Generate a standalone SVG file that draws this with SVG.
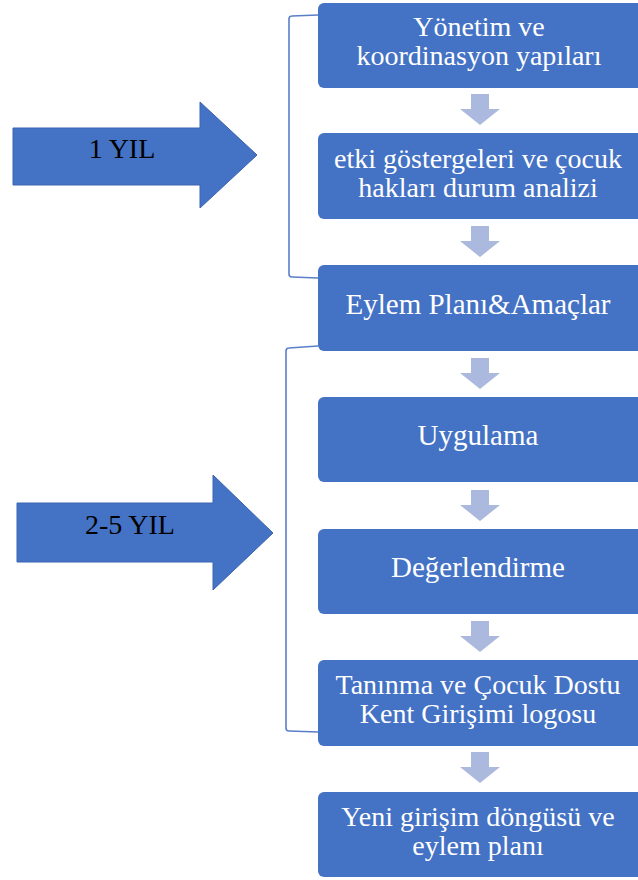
<svg xmlns="http://www.w3.org/2000/svg" width="638" height="880" viewBox="0 0 638 880" font-family="'Times New Roman', 'Liberation Serif', serif">
<style>
.box{fill:#4472C4;}
.bt{font-family:'Times New Roman','Liberation Serif',serif;font-size:28px;fill:#FFFFFF;text-anchor:middle;}
.bt1{font-family:'Times New Roman','Liberation Serif',serif;font-size:29px;fill:#FFFFFF;text-anchor:middle;}
.at{font-family:'Times New Roman','Liberation Serif',serif;font-size:28px;fill:#000000;text-anchor:middle;}
.big{fill:#4472C4;stroke:#3B64B0;stroke-width:1;}
.down{fill:#AAB9DD;}
.br{fill:none;stroke:#5A7FC8;stroke-width:1.6;}
</style>
<rect width="638" height="880" fill="#FFFFFF"/>
<g id="connectors">
<path class="br" d="M318,15 L292,16 Q289,16 289,19 L289,274 Q289,277 292,277 L318,278"/>
<path class="br" d="M318,346 L289,348 Q286,348 286,351 L286,728 Q286,731 289,731 L318,732"/>
<polygon class="down" points="471,94 489,94 489,109 500,109 480,125 460,109 471,109"/>
<polygon class="down" points="471,226 489,226 489,241 500,241 480,257 460,241 471,241"/>
<polygon class="down" points="471,358 489,358 489,373 500,373 480,389 460,373 471,373"/>
<polygon class="down" points="471,490 489,490 489,505 500,505 480,521 460,505 471,505"/>
<polygon class="down" points="471,621 489,621 489,636 500,636 480,652 460,636 471,636"/>
<polygon class="down" points="471,752 489,752 489,767 500,767 480,783 460,767 471,767"/>
</g>
<g id="arrow1">
<polygon class="big" points="13,128 200,128 200,102 257,155 200,208 200,185 13,185"/>
<text class="at" x="122" y="158">1 YIL</text>
</g>
<g id="arrow2">
<polygon class="big" points="17,503 213,503 213,475 273,533 213,590 213,562 17,562"/>
<text class="at" x="130" y="534">2-5 YIL</text>
</g>
<g id="n1">
<rect class="box" x="318" y="3" width="330" height="85" rx="6"/>
<text class="bt" x="479" y="36">Yönetim ve</text>
<text class="bt" x="479" y="65">koordinasyon yapıları</text>
</g>
<g id="n2">
<rect class="box" x="318" y="133" width="330" height="86" rx="6"/>
<text class="bt" x="478" y="168">etki göstergeleri ve çocuk</text>
<text class="bt" x="478" y="197">hakları durum analizi</text>
</g>
<g id="n3">
<rect class="box" x="318" y="265" width="330" height="86" rx="6"/>
<text class="bt1" x="478" y="314">Eylem Planı&amp;Amaçlar</text>
</g>
<g id="n4">
<rect class="box" x="318" y="397" width="330" height="85" rx="6"/>
<text class="bt1" x="478" y="445">Uygulama</text>
</g>
<g id="n5">
<rect class="box" x="318" y="529" width="330" height="85" rx="6"/>
<text class="bt1" x="478" y="577">Değerlendirme</text>
</g>
<g id="n6">
<rect class="box" x="318" y="660" width="330" height="86" rx="6"/>
<text class="bt" x="478" y="694">Tanınma ve Çocuk Dostu</text>
<text class="bt" x="478" y="723">Kent Girişimi logosu</text>
</g>
<g id="n7">
<rect class="box" x="318" y="792" width="330" height="85" rx="6"/>
<text class="bt" x="478" y="826">Yeni girişim döngüsü ve</text>
<text class="bt" x="478" y="855">eylem planı</text>
</g>
</svg>
